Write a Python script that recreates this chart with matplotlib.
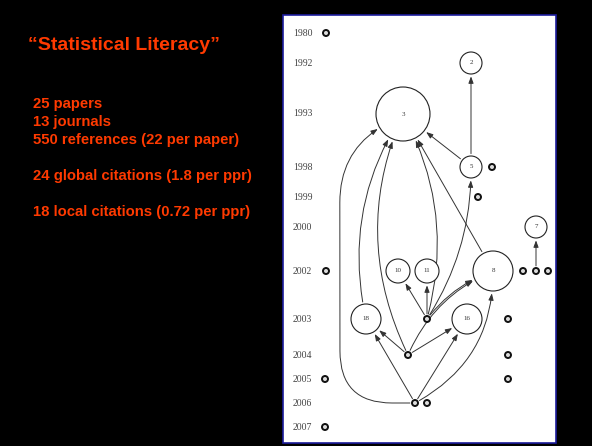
import matplotlib.pyplot as plt
from matplotlib.patches import Circle, Rectangle, FancyArrowPatch

# --- slide text ---
title = "\u201cStatistical Literacy\u201d"
stats_lines = ["25 papers", "13 journals", "550 references (22 per paper)",
               "24 global citations (1.8 per ppr)", "18 local citations (0.72 per ppr)"]
stats_y = [104, 122, 140, 176, 212]

# --- citation graph (historiograph) ---
years = [1980, 1992, 1993, 1998, 1999, 2000, 2002, 2003, 2004, 2005, 2006, 2007]
year_row = [33, 63, 114, 167, 197, 227, 271, 319, 355, 379, 403, 427]

# labelled papers: id, x position, year, radius
node_ids = ["2", "3", "5", "7", "8", "10", "11", "16", "18"]
node_x = [471, 403, 471, 536, 493, 398, 427, 467, 366]
node_year = [1992, 1993, 1998, 2000, 2002, 2002, 2002, 2003, 2003]
node_r = [11, 27, 11, 11, 20, 12, 12, 15, 15]

# unlabelled (small) papers
small_ids = ["a", "b", "c", "d", "e", "f", "g", "h", "i", "j", "k", "l", "m", "n", "o", "p"]
small_x = [326, 492, 478, 326, 523, 536, 548, 427, 508, 408, 508, 325, 508, 415, 427, 325]
small_year = [1980, 1998, 1999, 2002, 2002, 2002, 2002, 2003, 2003, 2004, 2004, 2005, 2005, 2006, 2006, 2007]

# local citations: citing -> cited, curvature (None = routed round the left)
edges = [("5", "2", 0.0), ("5", "3", 0.0), ("f", "7", 0.0), ("8", "3", 0.0),
         ("18", "3", -0.21), ("j", "3", -0.23), ("h", "3", 0.2), ("h", "5", 0.15),
         ("h", "8", -0.15), ("h", "10", 0.0), ("h", "11", 0.0), ("j", "8", -0.2),
         ("j", "18", 0.0), ("j", "16", 0.0), ("n", "18", 0.0), ("n", "16", 0.0),
         ("n", "8", 0.3), ("n", "3", None)]

RED = "#ff3a00"

fig = plt.figure(figsize=(5.92, 4.46), dpi=100, facecolor="black")
ax = fig.add_axes([0, 0, 1, 1])
ax.set_xlim(0, 592)
ax.set_ylim(446, 0)
ax.axis("off")

ax.text(28, 45, title, color=RED, fontsize=14, fontweight="bold",
        family="Liberation Sans", va="center")
for line, y in zip(stats_lines, stats_y):
    ax.text(33, y, line, color=RED, fontsize=10.7, fontweight="bold",
            family="Liberation Sans", va="center")

# white panel
ax.add_patch(Rectangle((283, 15), 273, 428, facecolor="white",
                       edgecolor="#1c1c9c", lw=1.2, zorder=1))

row = dict(zip(years, year_row))
for yr, y in row.items():
    ax.text(293, y, str(yr), fontsize=7, family="Liberation Serif",
            color="#444444", va="center", zorder=3)

patches = {}
for nid, x, yr, r in zip(node_ids, node_x, node_year, node_r):
    c = Circle((x, row[yr]), r, facecolor="white", edgecolor="#222222", lw=0.8, zorder=4)
    ax.add_patch(c)
    patches[nid] = c
    ax.text(x, row[yr], nid, fontsize=5, family="Liberation Serif",
            ha="center", va="center", color="#333333", zorder=5)
for sid, x, yr in zip(small_ids, small_x, small_year):
    c = Circle((x, row[yr]), 3, facecolor="#dddddd", edgecolor="#111111", lw=1.4, zorder=4)
    ax.add_patch(c)
    patches[sid] = c

for src, dst, rad in edges:
    if rad is None:
        cs = "arc,angleA=180,angleB=210,armA=75,armB=73,rad=52"
    else:
        cs = f"arc3,rad={rad}"
    a = FancyArrowPatch(patches[src].center, patches[dst].center,
                        patchA=patches[src], patchB=patches[dst],
                        arrowstyle="-|>,head_length=0.4,head_width=0.15",
                        mutation_scale=10, connectionstyle=cs,
                        color="#333333", lw=0.7, zorder=3)
    ax.add_patch(a)

fig.savefig("out.png", dpi=100, facecolor="black")
